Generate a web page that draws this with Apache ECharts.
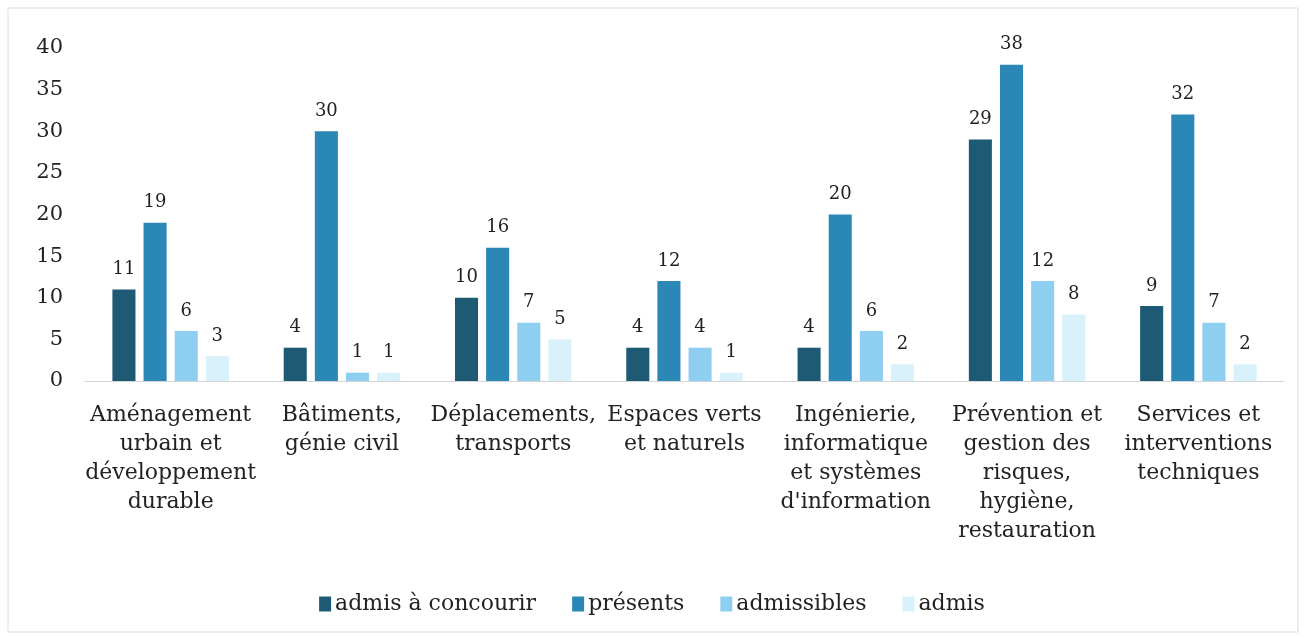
<!DOCTYPE html>
<html>
<head>
<meta charset="utf-8">
<script src="https://cdn.jsdelivr.net/npm/echarts@6/dist/echarts.min.js"></script>
<style>
  body { margin: 0; padding: 0; background: #fff; }
  #chart { width: 1304px; height: 638px; }
</style>
</head>
<body>
<div id="chart"></div>
<script>
// catégories (axe horizontal)
const categories = [
  'Aménagement\nurbain et\ndéveloppement\ndurable',
  'Bâtiments,\ngénie civil',
  'Déplacements,\ntransports',
  'Espaces verts\net naturels',
  'Ingénierie,\ninformatique\net systèmes\nd\'information',
  'Prévention et\ngestion des\nrisques,\nhygiène,\nrestauration',
  'Services et\ninterventions\ntechniques'
];
const admisConcourir = [11, 4, 10, 4, 4, 29, 9];
const presents = [19, 30, 16, 12, 20, 38, 32];
const admissibles = [6, 1, 7, 4, 6, 12, 7];
const admis = [3, 1, 5, 1, 2, 8, 2];
const seriesNames = ['admis à concourir', 'présents', 'admissibles', 'admis'];
const colors = ['#1f5a75', '#2b87b5', '#8ecef1', '#d8f1fb'];

const font = '"DejaVu Serif", "Liberation Serif", serif';
let myChart = echarts.init(document.getElementById('chart'));

function bar(name, data) {
  return {
    name: name,
    type: 'bar',
    data: data,
    barGap: '35%',
    barCategoryGap: '32%',
    label: {
      show: true,
      position: 'top',
      distance: 11,
      color: '#222',
      fontFamily: font,
      fontSize: 18
    }
  };
}

let option = {
  animation: false,
  color: colors,
  textStyle: { fontFamily: font },
  graphic: [{
    type: 'rect',
    shape: { x: 8, y: 8, width: 1290, height: 624 },
    style: { fill: 'none', stroke: '#dcdcdc', lineWidth: 1 }
  }],
  grid: { left: 85, right: 20, top: 48, bottom: 257 },
  legend: {
    bottom: 18,
    left: 'center',
    itemWidth: 12,
    itemHeight: 15,
    itemGap: 36,
    icon: 'rect',
    textStyle: { fontFamily: font, fontSize: 22, color: '#222', padding: [0, 0, 0, -1] },
    data: seriesNames
  },
  xAxis: {
    type: 'category',
    data: categories,
    axisTick: { show: false },
    axisLine: { lineStyle: { color: '#d4d4d4' } },
    axisLabel: {
      interval: 0,
      margin: 20,
      color: '#222',
      fontFamily: font,
      fontSize: 22,
      lineHeight: 29
    }
  },
  yAxis: {
    type: 'value',
    min: 0,
    max: 40,
    interval: 5,
    splitLine: { show: false },
    axisLine: { show: false },
    axisTick: { show: false },
    axisLabel: {
      color: '#222',
      fontFamily: font,
      fontSize: 21,
      margin: 22
    }
  },
  series: [
    bar(seriesNames[0], admisConcourir),
    bar(seriesNames[1], presents),
    bar(seriesNames[2], admissibles),
    bar(seriesNames[3], admis)
  ]
};
myChart.setOption(option);
</script>
</body>
</html>
